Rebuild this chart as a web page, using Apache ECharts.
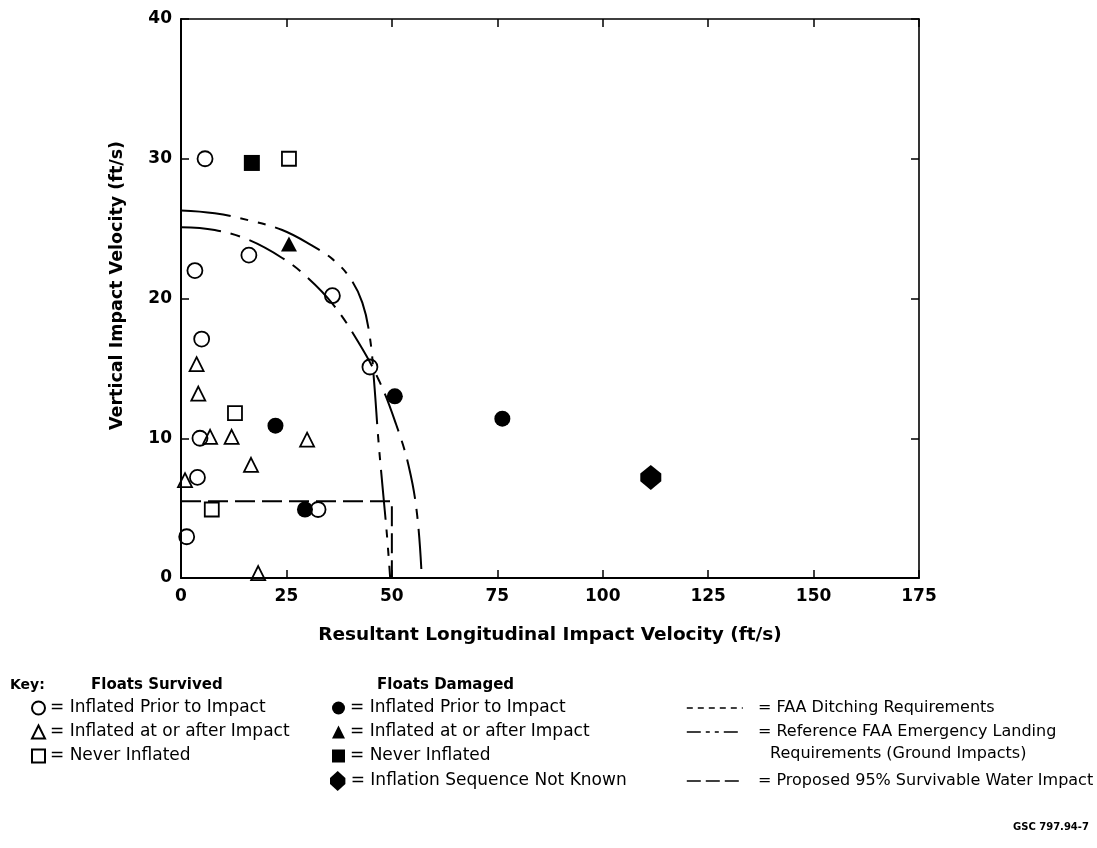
<!DOCTYPE html>
<html><head><meta charset="utf-8">
<script src="https://cdn.jsdelivr.net/npm/echarts@6/dist/echarts.min.js"></script>
<style>html,body{margin:0;padding:0;background:#fff}#chart{width:1097px;height:848px}</style>
</head><body><div id="chart"></div>
<script>
// ---- tick labels ----
const xTickLabels = [0, 25, 50, 75, 100, 125, 150, 175];
const yTickLabels = [0, 10, 20, 30, 40];

// ---- data (ft/s): [longitudinal, vertical] ----
const survivedInflatedPrior = [[5.7,30],[3.3,22],[16.1,23.1],[35.9,20.2],[4.9,17.1],[44.8,15.1],[4.5,10],[3.9,7.2],[1.35,2.95],[32.5,4.9]];
const survivedInflatedAfter = [[3.7,15.3],[4.1,13.2],[6.9,10.1],[12,10.1],[29.9,9.9],[16.6,8.1],[0.95,7.0],[18.3,0.35]];
const survivedNeverInflated = [[25.6,30],[12.8,11.8],[7.3,4.9]];
const damagedInflatedPrior = [[22.4,10.9],[29.4,4.9],[50.7,13.0],[76.2,11.4]];
const damagedInflatedAfter = [[25.6,23.9]];
const damagedNeverInflated = [[16.8,29.7]];
const damagedUnknown = [[111.4,7.2]];

// ---- requirement curves ----
const faaDitching = [[0,25.1],[8,24.9],[16,24.2],[24,22.9],[30,21.5],[36,19.6],[42,16.9],[47,14.1],[51,11.0],[54,8.0],[56,4.5],[57.1,0]];
const faaEmergencyLanding = [[0,26.3],[8,26.1],[16,25.6],[24,24.9],[31,23.8],[36,22.8],[40,21.5],[43,19.7],[44.8,17.2],[45.8,14.0],[46.8,9.9],[47.8,6.5],[48.8,3.2],[49.6,0]];
const proposed95 = [[0,5.5],[50,5.5],[50,0]];

// ---- legend texts ----
const legendLabels = {
  'S1': 'Inflated Prior to Impact',
  'S2': 'Inflated at or after Impact',
  'S3': 'Never Inflated',
  'D1': 'Inflated Prior to Impact',
  'D2': 'Inflated at or after Impact',
  'D3': 'Never Inflated',
  'D4': 'Inflation Sequence Not Known',
  'L1': 'FAA Ditching Requirements',
  'L2': 'Reference FAA Emergency Landing',
  'L3': 'Proposed 95% Survivable Water Impact'
};

const FONT = 'DejaVu Sans';
const DIAMOND = 'path://M10,0 L20,9 L20,17 L10,26 L0,17 L0,9 Z';
const hollow = {color: 'rgba(255,255,255,0)', borderColor: '#000', borderWidth: 1.8, opacity: 1};
const solid = {color: '#000', borderColor: '#000', borderWidth: 0, opacity: 1};

function scatter(id, data, symbol, size, style) {
  return {id, name: id, type: 'scatter', data, symbol, symbolSize: size, itemStyle: style,
    z: 5, emphasis: {disabled: true}, clip: false};
}
function curve(id, data, dash, smooth) {
  return {id, name: id, type: 'line', data, symbol: 'none', showSymbol: false, smooth: smooth,
    itemStyle: {color: '#000', opacity: 0},
    lineStyle: {color: '#000', width: 2, type: dash, opacity: 1}, z: 3,
    emphasis: {disabled: true}};
}
function legend(left, top, data, extra) {
  return Object.assign({
    left, top, orient: 'vertical', padding: 0, itemGap: 0, selectedMode: false,
    itemWidth: 13, itemHeight: 13, symbolKeepAspect: true, data,
    textStyle: {fontFamily: FONT, fontSize: 17, lineHeight: 24, color: '#000'},
    formatter: n => '= ' + legendLabels[n]
  }, extra || {});
}

const xMin = xTickLabels[0], xMax = xTickLabels[xTickLabels.length-1], xStep = xTickLabels[1]-xTickLabels[0];
const yMin = yTickLabels[0], yMax = yTickLabels[yTickLabels.length-1], yStep = yTickLabels[1]-yTickLabels[0];

const axisLine = {show: true, onZero: false, lineStyle: {color: '#000', width: 2}};
const axisLineThin = {show: true, onZero: false, lineStyle: {color: '#000', width: 1.6}};
const tickIn = {show: true, inside: true, length: 8, lineStyle: {color: '#000', width: 1.5}};
const lineIcon = {itemStyle: {opacity: 0, color: 'transparent', borderWidth: 0}};
const col3Text = {fontFamily: FONT, fontSize: 16, lineHeight: 24, color: '#000'};

const chart = echarts.init(document.getElementById('chart'), null, {renderer: 'canvas'});
chart.setOption({
  animation: false,
  backgroundColor: '#fff',
  grid: {left: 181, right: 178, top: 19, bottom: 270},
  xAxis: [
    {type: 'value', min: xMin, max: xMax, interval: xStep, position: 'bottom',
     axisLine, axisTick: tickIn, splitLine: {show: false},
     axisLabel: {color: '#000', fontFamily: FONT, fontWeight: 'bold', fontSize: 17, margin: 10},
     name: 'Resultant Longitudinal Impact Velocity (ft/s)', nameLocation: 'middle', nameGap: 48,
     nameTextStyle: {color: '#000', fontFamily: FONT, fontWeight: 'bold', fontSize: 18.5}},
    {type: 'value', min: xMin, max: xMax, interval: xStep, position: 'top',
     axisLine: axisLineThin, axisTick: tickIn,
     axisLabel: {show: false}, splitLine: {show: false}}
  ],
  yAxis: [
    {type: 'value', min: yMin, max: yMax, interval: yStep, position: 'left',
     axisLine, axisTick: tickIn, splitLine: {show: false},
     axisLabel: {color: '#000', fontFamily: FONT, fontWeight: 'bold', fontSize: 17, margin: 9},
     name: 'Vertical Impact Velocity (ft/s)', nameLocation: 'middle', nameGap: 55,
     nameTextStyle: {color: '#000', fontFamily: FONT, fontWeight: 'bold', fontSize: 17.5, padding: [0, 0, 0, 26]}},
    {type: 'value', min: yMin, max: yMax, interval: yStep, position: 'right',
     axisLine: axisLineThin, axisTick: tickIn,
     axisLabel: {show: false}, splitLine: {show: false}}
  ],
  legend: [
    legend(31, 696, ['S1','S2','S3']),
    legend(332, 696, ['D1','D2','D3']),
    legend(330, 769, ['D4'], {itemWidth: 16, itemHeight: 20}),
    legend(686, 696, [
      Object.assign({name: 'L1', lineStyle: {type: [6, 5], width: 1.6}}, lineIcon),
      Object.assign({name: 'L2', lineStyle: {type: [14, 5, 4, 5, 4, 5], width: 1.6}}, lineIcon)
    ], {itemWidth: 56, textStyle: col3Text, formatter: n => '  = ' + legendLabels[n]}),
    legend(686, 769, [
      Object.assign({name: 'L3', lineStyle: {type: [14, 5], width: 1.6}}, lineIcon)
    ], {itemWidth: 56, textStyle: col3Text, formatter: n => '  = ' + legendLabels[n]})
  ],
  graphic: [
    {type: 'text', left: 10, top: 678, style: {text: 'Key:', font: 'bold 14px "DejaVu Sans"', fill: '#000'}},
    {type: 'text', left: 91, top: 678, style: {text: 'Floats Survived', font: 'bold 15px "DejaVu Sans"', fill: '#000'}},
    {type: 'text', left: 377, top: 678, style: {text: 'Floats Damaged', font: 'bold 15px "DejaVu Sans"', fill: '#000'}},
    {type: 'text', left: 770, top: 746, style: {text: 'Requirements (Ground Impacts)', font: '16px "DejaVu Sans"', fill: '#000'}},
    {type: 'text', left: 1013, top: 822, style: {text: 'GSC 797.94-7', font: 'bold 10px "DejaVu Sans"', fill: '#000'}}
  ],
  series: [
    curve('L1', faaDitching, [40, 10, 10, 10], 0.4),
    curve('L2', faaEmergencyLanding, [50, 10, 8, 10, 8, 10], 0.4),
    curve('L3', proposed95, [20, 7], false),
    scatter('S1', survivedInflatedPrior, 'circle', 15, hollow),
    scatter('S2', survivedInflatedAfter, 'triangle', 14, hollow),
    scatter('S3', survivedNeverInflated, 'rect', 14, hollow),
    scatter('D1', damagedInflatedPrior, 'circle', 16, solid),
    scatter('D2', damagedInflatedAfter, 'triangle', [16, 15], solid),
    scatter('D3', damagedNeverInflated, 'rect', 16, solid),
    scatter('D4', damagedUnknown, DIAMOND, [21, 25], solid)
  ]
});
</script>
</body></html>
